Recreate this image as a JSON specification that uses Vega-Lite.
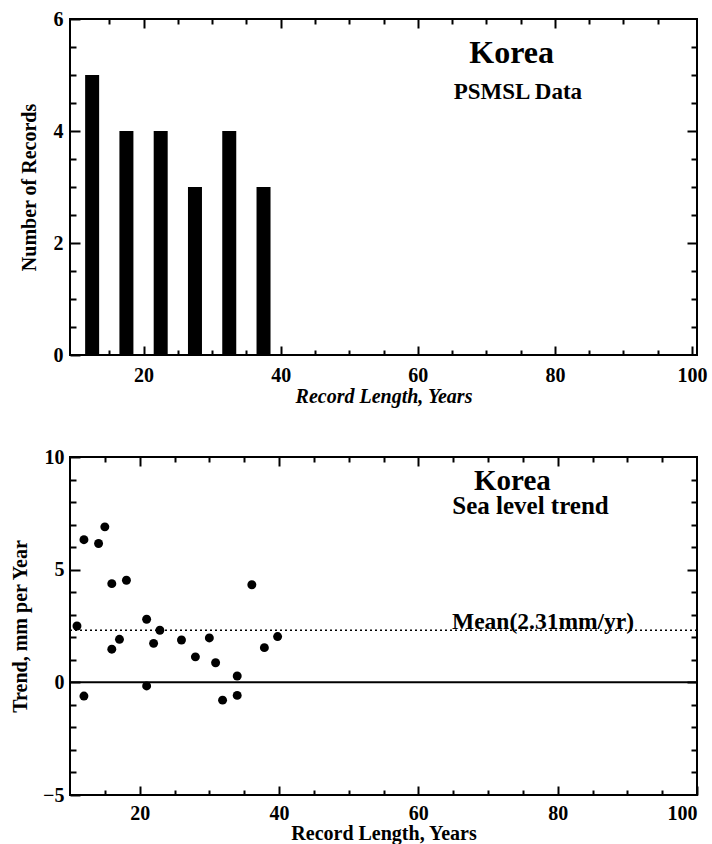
{
  "$schema": "https://vega.github.io/schema/vega-lite/v6.json",
  "background": "white",
  "padding": {"left": 9, "top": 8, "right": 4, "bottom": 0},
  "config": {
    "view": {"stroke": "black", "strokeWidth": 2},
    "font": "Liberation Serif",
    "axis": {
      "domain": false, "grid": false, "tickColor": "black", "tickWidth": 2,
      "labelColor": "black", "labelFont": "Liberation Serif", "labelFontWeight": "bold", "labelFontSize": 20,
      "titleFont": "Liberation Serif", "titleFontWeight": "bold", "titleFontSize": 20, "titleColor": "black"
    }
  },
  "datasets": {
    "hist": [
      {"length": 12.5, "count": 5},
      {"length": 17.5, "count": 4},
      {"length": 22.5, "count": 4},
      {"length": 27.5, "count": 3},
      {"length": 32.5, "count": 4},
      {"length": 37.5, "count": 3}
    ],
    "trend": [
      {"length": 11, "trend": 2.5},
      {"length": 12, "trend": 6.33},
      {"length": 12, "trend": -0.61},
      {"length": 14.1, "trend": 6.16},
      {"length": 15, "trend": 6.9},
      {"length": 16, "trend": 4.38},
      {"length": 16, "trend": 1.47},
      {"length": 17.1, "trend": 1.91},
      {"length": 18.1, "trend": 4.53},
      {"length": 21, "trend": 2.8},
      {"length": 21, "trend": -0.16},
      {"length": 22, "trend": 1.73},
      {"length": 22.9, "trend": 2.31},
      {"length": 26, "trend": 1.88},
      {"length": 28, "trend": 1.13},
      {"length": 30, "trend": 1.97},
      {"length": 30.9, "trend": 0.87},
      {"length": 31.9, "trend": -0.79},
      {"length": 34, "trend": 0.28},
      {"length": 34, "trend": -0.58},
      {"length": 36.1, "trend": 4.33},
      {"length": 37.9, "trend": 1.54},
      {"length": 39.8, "trend": 2.03}
    ],
    "one": [{}]
  },
  "bounds": "flush",
  "spacing": 102,
  "vconcat": [
    {
      "width": 627,
      "height": 336,
      "data": {"name": "hist"},
      "resolve": {"axis": {"x": "independent", "y": "independent"}},
      "layer": [
        {
          "mark": {"type": "bar", "color": "black", "size": 14},
          "encoding": {
            "x": {"field": "length", "type": "quantitative", "scale": {"domain": [10, 100], "nice": false, "zero": false},
                  "axis": {"orient": "bottom", "values": [20, 40, 60, 80, 100], "tickSize": -9, "labelPadding": 19, "title": "Record Length, Years", "titleFontStyle": "italic", "titlePadding": 1}},
            "y": {"field": "count", "type": "quantitative", "scale": {"domain": [0, 6], "nice": false},
                  "axis": {"orient": "left", "values": [0, 2, 4, 6], "tickSize": -10, "labelPadding": 17, "title": "Number of Records", "titlePadding": 14}}
          }
        },
        {
          "mark": {"type": "point", "opacity": 0},
          "encoding": {
            "x": {"field": "length", "type": "quantitative", "scale": {"domain": [10, 100], "nice": false, "zero": false},
                  "axis": {"orient": "bottom", "values": [15, 25, 30, 35, 45, 50, 55, 65, 70, 75, 85, 90, 95], "tickSize": -5, "labels": false, "title": null}},
            "y": {"field": "count", "type": "quantitative", "scale": {"domain": [0, 6], "nice": false},
                  "axis": {"orient": "left", "values": [0.5, 1, 1.5, 2.5, 3, 3.5, 4.5, 5, 5.5], "tickSize": -6, "labels": false, "title": null}}
          }
        },
        {
          "mark": {"type": "point", "opacity": 0},
          "encoding": {
            "x": {"field": "length", "type": "quantitative", "scale": {"domain": [10, 100], "nice": false, "zero": false},
                  "axis": {"orient": "top", "values": [20, 40, 60, 80], "tickSize": -9, "labels": false, "title": null}},
            "y": {"field": "count", "type": "quantitative", "scale": {"domain": [0, 6], "nice": false},
                  "axis": {"orient": "right", "values": [2, 4], "tickSize": -10, "labels": false, "title": null}}
          }
        },
        {
          "mark": {"type": "point", "opacity": 0},
          "encoding": {
            "x": {"field": "length", "type": "quantitative", "scale": {"domain": [10, 100], "nice": false, "zero": false},
                  "axis": {"orient": "top", "values": [15, 25, 30, 35, 45, 50, 55, 65, 70, 75, 85, 90, 95], "tickSize": -5, "labels": false, "title": null}},
            "y": {"field": "count", "type": "quantitative", "scale": {"domain": [0, 6], "nice": false},
                  "axis": {"orient": "right", "values": [0.5, 1, 1.5, 2.5, 3, 3.5, 4.5, 5, 5.5], "tickSize": -6, "labels": false, "title": null}}
          }
        },
        {
          "data": {"name": "one"},
          "mark": {"type": "text", "text": "Korea", "fontSize": 32, "fontWeight": "bold", "font": "Liberation Serif", "color": "black", "baseline": "alphabetic"},
          "encoding": {"x": {"datum": 73.7, "type": "quantitative", "axis": null}, "y": {"datum": 5.21, "type": "quantitative", "axis": null}}
        },
        {
          "data": {"name": "one"},
          "mark": {"type": "text", "text": "PSMSL Data", "fontSize": 23, "fontWeight": "bold", "font": "Liberation Serif", "color": "black", "baseline": "alphabetic"},
          "encoding": {"x": {"datum": 74.6, "type": "quantitative", "axis": null}, "y": {"datum": 4.58, "type": "quantitative", "axis": null}}
        }
      ]
    },
    {
      "width": 627,
      "height": 338,
      "data": {"name": "trend"},
      "resolve": {"axis": {"x": "independent", "y": "independent"}},
      "layer": [
        {
          "data": {"name": "one"},
          "mark": {"type": "rule", "color": "black", "strokeWidth": 2},
          "encoding": {"y": {"datum": 0, "type": "quantitative", "scale": {"domain": [-5, 10], "nice": false}, "axis": null}}
        },
        {
          "data": {"name": "one"},
          "mark": {"type": "rule", "color": "black", "strokeWidth": 1.5, "strokeDash": [2, 3]},
          "encoding": {"y": {"datum": 2.31, "type": "quantitative", "axis": null}}
        },
        {
          "mark": {"type": "point", "filled": true, "color": "black", "opacity": 1, "size": 80},
          "encoding": {
            "x": {"field": "length", "type": "quantitative", "scale": {"domain": [10, 100], "nice": false, "zero": false},
                  "axis": {"orient": "bottom", "values": [20, 40, 60, 80, 100], "tickSize": -9, "labelPadding": 17, "title": "Record Length, Years", "titlePadding": 0}},
            "y": {"field": "trend", "type": "quantitative", "scale": {"domain": [-5, 10], "nice": false},
                  "axis": {"orient": "left", "values": [-5, 0, 5, 10], "tickSize": -10, "labelPadding": 16, "title": "Trend, mm per Year", "titlePadding": 12}}
          }
        },
        {
          "mark": {"type": "point", "opacity": 0},
          "encoding": {
            "x": {"field": "length", "type": "quantitative", "scale": {"domain": [10, 100], "nice": false, "zero": false},
                  "axis": {"orient": "bottom", "values": [15, 25, 30, 35, 45, 50, 55, 65, 70, 75, 85, 90, 95], "tickSize": -5, "labels": false, "title": null}},
            "y": {"field": "trend", "type": "quantitative", "scale": {"domain": [-5, 10], "nice": false},
                  "axis": {"orient": "left", "values": [-4, -3, -2, -1, 1, 2, 3, 4, 6, 7, 8, 9], "tickSize": -6, "labels": false, "title": null}}
          }
        },
        {
          "mark": {"type": "point", "opacity": 0},
          "encoding": {
            "x": {"field": "length", "type": "quantitative", "scale": {"domain": [10, 100], "nice": false, "zero": false},
                  "axis": {"orient": "top", "values": [20, 40, 60, 80], "tickSize": -9, "labels": false, "title": null}},
            "y": {"field": "trend", "type": "quantitative", "scale": {"domain": [-5, 10], "nice": false},
                  "axis": {"orient": "right", "values": [0, 5], "tickSize": -10, "labels": false, "title": null}}
          }
        },
        {
          "mark": {"type": "point", "opacity": 0},
          "encoding": {
            "x": {"field": "length", "type": "quantitative", "scale": {"domain": [10, 100], "nice": false, "zero": false},
                  "axis": {"orient": "top", "values": [15, 25, 30, 35, 45, 50, 55, 65, 70, 75, 85, 90, 95], "tickSize": -5, "labels": false, "title": null}},
            "y": {"field": "trend", "type": "quantitative", "scale": {"domain": [-5, 10], "nice": false},
                  "axis": {"orient": "right", "values": [-4, -3, -2, -1, 1, 2, 3, 4, 6, 7, 8, 9], "tickSize": -6, "labels": false, "title": null}}
          }
        },
        {
          "data": {"name": "one"},
          "mark": {"type": "text", "text": "Korea", "fontSize": 29, "fontWeight": "bold", "font": "Liberation Serif", "color": "black", "baseline": "alphabetic"},
          "encoding": {"x": {"datum": 73.5, "type": "quantitative", "axis": null}, "y": {"datum": 8.55, "type": "quantitative", "axis": null}}
        },
        {
          "data": {"name": "one"},
          "mark": {"type": "text", "text": "Sea level trend", "fontSize": 25, "fontWeight": "bold", "font": "Liberation Serif", "color": "black", "baseline": "alphabetic"},
          "encoding": {"x": {"datum": 76.1, "type": "quantitative", "axis": null}, "y": {"datum": 7.45, "type": "quantitative", "axis": null}}
        },
        {
          "data": {"name": "one"},
          "mark": {"type": "text", "text": "Mean(2.31mm/yr)", "fontSize": 23.5, "fontWeight": "bold", "font": "Liberation Serif", "color": "black", "baseline": "alphabetic", "dy": -1},
          "encoding": {"x": {"datum": 77.9, "type": "quantitative", "axis": null}, "y": {"datum": 2.31, "type": "quantitative", "axis": null}}
        }
      ]
    }
  ]
}
